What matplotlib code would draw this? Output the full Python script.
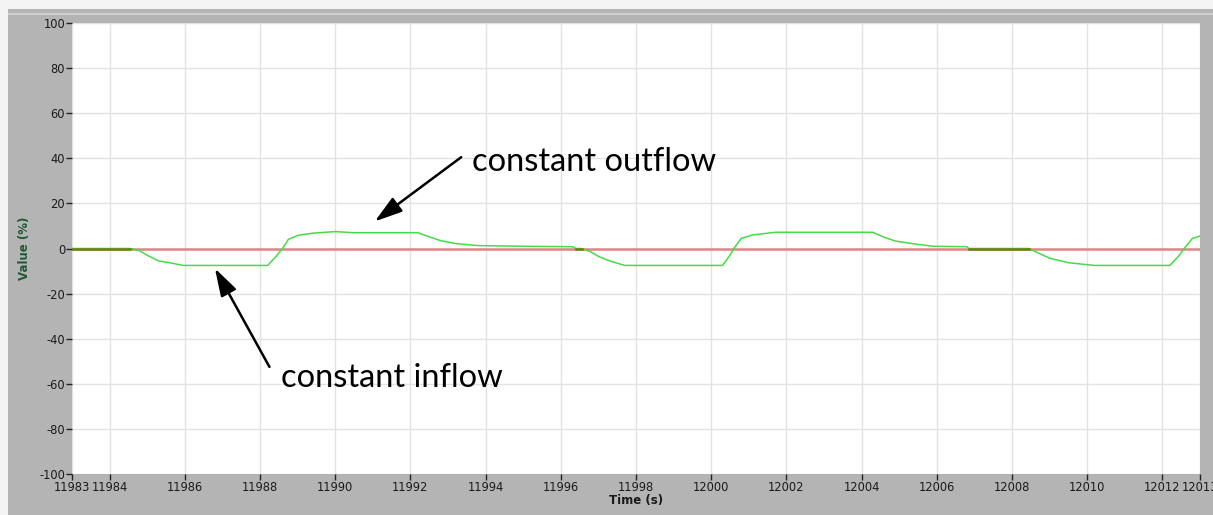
import numpy as np
import matplotlib
matplotlib.use('Agg')
import matplotlib.pyplot as plt
from matplotlib.patches import Rectangle

# green trace
t = [11983.0, 11984.55, 11984.8, 11985.0, 11985.3, 11985.6, 11985.95, 11988.2,
     11988.4, 11988.6, 11988.75, 11989.0, 11989.4, 11990.0, 11990.5, 11992.2,
     11992.5, 11992.8, 11993.2, 11993.8, 11995.0, 11996.3, 11996.4, 11996.55,
     11996.8, 11997.0, 11997.3, 11997.7, 12000.3, 12000.5, 12000.6, 12000.8,
     12001.1, 12001.7, 12004.3, 12004.6, 12004.9, 12005.5, 12005.9, 12006.8,
     12006.85, 12008.45, 12008.7, 12009.0, 12009.5, 12010.2, 12012.2, 12012.45,
     12012.6, 12012.8, 12013.0]
value = [0, 0, -1, -3, -5.5, -6.3, -7.5, -7.5,
         -4, 0, 4, 5.8, 6.8, 7.5, 7.0, 7.0,
         5.2, 3.5, 2.2, 1.3, 1.0, 0.8, 0, 0,
         -1.5, -3.5, -5.5, -7.5, -7.5, -3, 0, 4.5,
         6.0, 7.2, 7.2, 5, 3.3, 1.8, 1.0, 0.8,
         0, 0, -2, -4.3, -6.3, -7.5, -7.5, -3,
         0.5, 4.5, 5.5]
setpoint = [0, 0]
setpoint_t = [11983, 12013]

xticks = [11983, 11984, 11986, 11988, 11990, 11992, 11994, 11996, 11998,
          12000, 12002, 12004, 12006, 12008, 12010, 12012, 12013]
yticks = [-100, -80, -60, -40, -20, 0, 20, 40, 60, 80, 100]

# annotations: label, text anchor, arrow tail, arrow tip (data units)
labels = ['constant outflow', 'constant inflow']
label_xy = [(11993.65, 38.5), (11988.55, -57.5)]
tail_xy = [(11993.35, 40.5), (11988.25, -52.5)]
tip_xy = [(11991.05, 12.0), (11986.8, -8.8)]

grey = '#b4b4b4'
fig = plt.figure(figsize=(12.13, 5.15), dpi=100, facecolor=grey)
# light outer strips at top and left
fig.patches.append(Rectangle((0, 0.982), 1, 0.018, transform=fig.transFigure,
                             facecolor='#f4f4f4', edgecolor='none', zorder=0))
fig.patches.append(Rectangle((0, 0), 0.0066, 1, transform=fig.transFigure,
                             facecolor='#f4f4f4', edgecolor='none', zorder=0))
fig.patches.append(Rectangle((0.0066, 0.97), 1, 0.004, transform=fig.transFigure,
                             facecolor='#d0d0d0', edgecolor='none', zorder=0))

ax = fig.add_axes([0.0594, 0.0796, 0.9299, 0.8757])
ax.set_facecolor('white')

ax.plot(setpoint_t, setpoint, color='#e08585', lw=1.8, zorder=2)
ax.plot(t, value, color='#45dc45', lw=1.1, zorder=3)
# where the trace sits on zero it shows olive
tt = np.array(t)
vv = np.array(value)
for i in range(len(tt) - 1):
    if vv[i] == 0 and vv[i + 1] == 0:
        ax.plot(tt[i:i + 2], vv[i:i + 2], color='#6f8010', lw=1.8, zorder=4)

ax.set_xlim(11983, 12013)
ax.set_ylim(-100, 100)
ax.set_xticks(xticks)
ax.set_yticks(yticks)
ax.set_xticklabels([str(x) for x in xticks], fontsize=8.3, color='#1a1a1a')
ax.set_yticklabels([str(y) for y in yticks], fontsize=8.3, color='#1a1a1a')
ax.tick_params(direction='out', length=4, width=1, color='#222222', pad=1)
ax.grid(True, color='#e3e3e3', lw=1)
ax.set_axisbelow(True)
for s in ax.spines.values():
    s.set_visible(False)

ax.set_xlabel('Time (s)', fontsize=8.5, fontweight='bold', color='#1a1a1a', labelpad=0)
ax.set_ylabel('Value (%)', fontsize=8.5, fontweight='bold', color='#1f5a33', labelpad=6)

for lab, lxy, txy, pxy in zip(labels, label_xy, tail_xy, tip_xy):
    ax.text(lxy[0], lxy[1], lab, fontsize=23.5, family='Lato',
            va='center', ha='left', color='black')
    ax.annotate('', xy=pxy, xytext=txy,
                arrowprops=dict(arrowstyle='-|>,head_length=1.3,head_width=0.4',
                                color='black', lw=1.8, mutation_scale=13,
                                shrinkA=0, shrinkB=0))

fig.savefig('out.png', dpi=100, facecolor=grey)
